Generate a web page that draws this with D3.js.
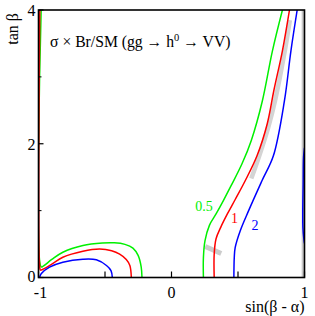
<!DOCTYPE html>
<html>
<head>
<meta charset="UTF-8">
<script src="https://d3js.org/d3.v7.min.js"></script>
<style>
  body { margin: 0; background: #fff; }
  svg { display: block; font-family: "Liberation Serif", "DejaVu Serif", serif; }
  .tick-label { font-size: 16px; fill: #000; }
</style>
</head>
<body>
<svg id="chart" width="315" height="316"></svg>
<script>
// contour lines of sigma x Br / SM, as [sin(beta-alpha), tan beta]
const green05Left = [[-0.98, 4.0], [-0.98, 0.16], [-0.965, 0.17], [-0.9, 0.27], [-0.817, 0.378], [-0.666, 0.478], [-0.52, 0.515], [-0.43, 0.518], [-0.35, 0.495], [-0.29, 0.44], [-0.251, 0.33], [-0.228, 0.16], [-0.222, 0]];
const red1Left = [[-0.99, 4.0], [-0.99, 0.14], [-0.985, 0.11], [-0.97, 0.12], [-0.9, 0.2], [-0.817, 0.303], [-0.666, 0.393], [-0.54, 0.425], [-0.45, 0.4], [-0.39, 0.35], [-0.34, 0.27], [-0.313, 0.18], [-0.302, 0]];
const blue2Left = [[-0.992, 0], [-0.98, 0.055], [-0.917, 0.154], [-0.817, 0.228], [-0.666, 0.273], [-0.565, 0.264], [-0.489, 0.179], [-0.455, 0.104], [-0.445, 0]];
const green05Right = [[0.24, 0], [0.24, 0.3], [0.252, 0.55], [0.285, 0.78], [0.335, 0.95], [0.39, 1.15], [0.45, 1.38], [0.53, 1.7], [0.6, 2.05], [0.683, 2.64], [0.759, 3.39], [0.834, 4.0]];
const red1Right = [[0.321, 0], [0.321, 0.35], [0.335, 0.58], [0.37, 0.75], [0.42, 0.95], [0.48, 1.17], [0.555, 1.45], [0.643, 1.82], [0.72, 2.3], [0.77, 2.8], [0.834, 3.39], [0.887, 4.0]];
const blue2Right = [[0.469, 0], [0.472, 0.3], [0.479, 0.45], [0.517, 0.7], [0.58, 1.0], [0.681, 1.45], [0.766, 1.82], [0.849, 2.64], [0.898, 3.39], [0.945, 4.0]];
const blue2Edge = [[1.0, 1.94], [0.993, 1.8], [0.99, 1.4], [0.987, 1.0], [0.988, 0.75], [0.995, 0.58], [1.0, 0.51]];

// grey bands
const greyRight = [[0.6, 1.48], [0.66, 1.82], [0.728, 2.25], [0.778, 2.64], [0.852, 3.39], [0.89, 3.85]];
const greyDash = [[0.253, 0.463], [0.374, 0.358]];
const greyEdgeR = [[0.99, 0], [0.99, 4.0]];
const greyEdgeL = [[-0.997, 0.15], [-0.997, 4.0]];

const xTicks = [-1, 0, 1];
const xMinor = [-0.5, 0.5];
const yTicks = [0, 2, 4];
const yMinor = [1, 3];

const svg = d3.select("#chart");
const x = d3.scaleLinear().domain([-1, 1]).range([38.5, 304.5]);
const y = d3.scaleLinear().domain([0, 4]).range([277.5, 10]);

svg.append("clipPath").attr("id", "clip").append("rect")
  .attr("x", x(-1)).attr("y", y(4)).attr("width", x(1) - x(-1)).attr("height", y(0) - y(4));

const line = d3.line().x(d => x(d[0])).y(d => y(d[1])).curve(d3.curveCatmullRom.alpha(0.5));
const g = svg.append("g").attr("clip-path", "url(#clip)");

[[greyRight, 4.5, "#d4d4d4"], [greyDash, 5, "#cccccc"], [greyEdgeR, 3, "#c8c8c8"], [greyEdgeL, 2, "#c8c8c8"]]
  .forEach(([d, w, c]) => g.append("path").attr("d", line(d)).attr("fill", "none")
    .attr("stroke", c).attr("stroke-width", w));

const green = "#00f000";
[[green05Left, green], [red1Left, "#ff0000"], [blue2Left, "#0000ff"],
 [green05Right, green], [red1Right, "#ff0000"], [blue2Right, "#0000ff"], [blue2Edge, "#0000ff"]]
  .forEach(([d, c]) => g.append("path").attr("d", line(d)).attr("fill", "none")
    .attr("stroke", c).attr("stroke-width", 1.5));

// frame
svg.append("rect").attr("x", x(-1)).attr("y", y(4)).attr("width", x(1) - x(-1)).attr("height", y(0) - y(4))
  .attr("fill", "none").attr("stroke", "#000").attr("stroke-width", 1.6);

// ticks
svg.selectAll(".xt").data(xTicks.concat(xMinor)).enter().append("line")
  .attr("x1", d => x(d)).attr("x2", d => x(d)).attr("y1", y(0)).attr("y2", y(0) - 6)
  .attr("stroke", "#000").attr("stroke-width", 1.2);
svg.selectAll(".yt").data(yTicks).enter().append("line")
  .attr("x1", x(-1)).attr("x2", x(-1) + 5).attr("y1", d => y(d)).attr("y2", d => y(d))
  .attr("stroke", "#000").attr("stroke-width", 1.2);
svg.selectAll(".ym").data(yMinor).enter().append("line")
  .attr("x1", x(-1)).attr("x2", x(-1) + 3).attr("y1", d => y(d)).attr("y2", d => y(d))
  .attr("stroke", "#000").attr("stroke-width", 1);

svg.selectAll(".xl").data(xTicks).enter().append("text").attr("class", "tick-label")
  .attr("x", d => x(d) + (d === -1 ? 2 : 0)).attr("y", y(0) + 20).attr("text-anchor", "middle")
  .text(d => d);
svg.selectAll(".yl").data(yTicks).enter().append("text").attr("class", "tick-label")
  .attr("x", x(-1) - 3).attr("y", d => y(d) + (d === 0 ? 4 : 6)).attr("text-anchor", "end")
  .text(d => d);

svg.append("text").attr("class", "tick-label").attr("x", x(1)).attr("y", 312)
  .attr("text-anchor", "end").text("sin(β - α)");
svg.append("text").attr("class", "tick-label")
  .attr("transform", `translate(18,${y(4) + 3}) rotate(-90)`).attr("text-anchor", "end")
  .text("tan β");

const title = svg.append("text").attr("x", 50).attr("y", 47).style("font-size", "15.7px");
title.append("tspan").text("σ × Br/SM (gg → h");
title.append("tspan").attr("dy", -6).style("font-size", "10.5px").text("0");
title.append("tspan").attr("dy", 6).text(" → VV)");

// contour labels
[["0.5", 0.244, 0.99, green], ["1", 0.474, 0.815, "#ff0000"], ["2", 0.628, 0.71, "#0000ff"]]
  .forEach(([t, sx, ty, c]) => svg.append("text").attr("x", x(sx)).attr("y", y(ty))
    .attr("fill", c).style("font-size", "14px").attr("text-anchor", "middle").text(t));
</script>
</body>
</html>
